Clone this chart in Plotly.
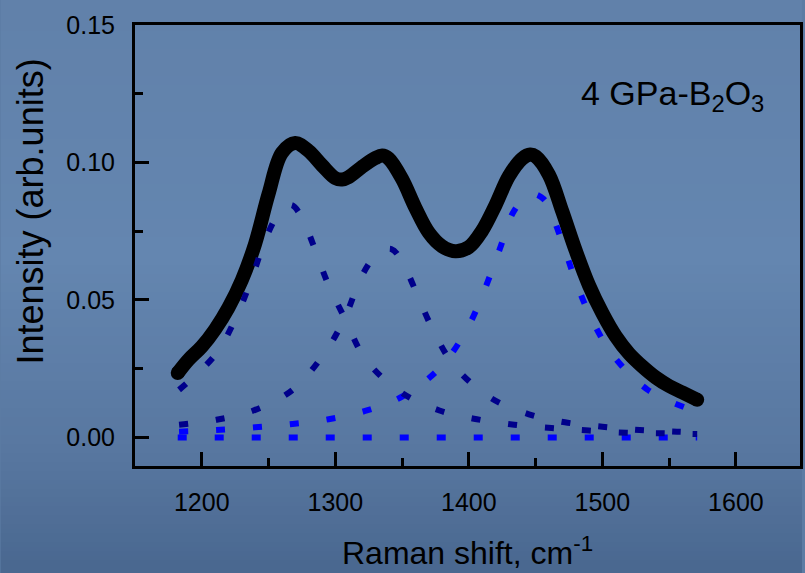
import base64, struct, zlib
import plotly.graph_objects as go

# ---- data ----
x_total = [1182, 1190, 1200, 1210, 1220, 1230, 1240, 1250, 1260, 1270, 1280, 1290, 1300,
           1305, 1310, 1320, 1330, 1335, 1340, 1350, 1360, 1370, 1380, 1390, 1400, 1410,
           1420, 1430, 1440, 1446, 1450, 1460, 1470, 1480, 1490, 1500, 1510, 1520, 1530,
           1540, 1550, 1560, 1571]
y_total = [0.0234, 0.0282, 0.0330, 0.0393, 0.0472, 0.0572, 0.0705, 0.0885, 0.1035, 0.1071,
           0.1042, 0.0990, 0.0943, 0.0938, 0.0947, 0.0984, 0.1016, 0.1025, 0.1014, 0.0940,
           0.0835, 0.0745, 0.0695, 0.0677, 0.0692, 0.0752, 0.0845, 0.0950, 0.1014, 0.1029,
           0.1022, 0.0955, 0.0822, 0.0680, 0.0553, 0.0452, 0.0368, 0.0305, 0.0258, 0.0218,
           0.0187, 0.0163, 0.0137]

x_comp1 = [1183, 1210, 1226, 1238, 1248, 1258, 1267, 1275, 1283, 1294, 1307, 1323, 1349,
           1378, 1406, 1434, 1462, 1490, 1518, 1546, 1571]
y_comp1 = [0.0173, 0.0300, 0.0440, 0.0586, 0.0725, 0.0815, 0.0845, 0.0800, 0.0707, 0.0565,
           0.0434, 0.0282, 0.0165, 0.0098, 0.0066, 0.0046, 0.0034, 0.0025, 0.0017, 0.0015,
           0.0012]

x_comp2 = [1183, 1211, 1240, 1268, 1292, 1307, 1320, 1332, 1342, 1350, 1359, 1372, 1389,
           1416, 1445, 1472, 1500, 1528, 1556, 1571]
y_comp2 = [0.0046, 0.0064, 0.0100, 0.0173, 0.0307, 0.0434, 0.0589, 0.0670, 0.0685, 0.0640,
           0.0546, 0.0403, 0.0261, 0.0145, 0.0084, 0.0055, 0.0039, 0.0027, 0.0021, 0.0018]

x_comp3 = [1183, 1211, 1240, 1268, 1295, 1323, 1351, 1379, 1399, 1412, 1423, 1434, 1446,
           1456, 1469, 1479, 1491, 1508, 1534, 1562, 1571]
y_comp3 = [0.0021, 0.0027, 0.0037, 0.0049, 0.0066, 0.0097, 0.0151, 0.0256, 0.0398, 0.0540,
           0.0683, 0.0825, 0.0885, 0.0867, 0.0723, 0.0582, 0.0440, 0.0298, 0.0173, 0.0109,
           0.0097]

x_base = [1182, 1571]
y_base = [0.0, 0.0]

x_ticks = [1200, 1300, 1400, 1500, 1600]
y_ticks = [0.00, 0.05, 0.10, 0.15]
y_tick_labels = ["0.00", "0.05", "0.10", "0.15"]

FONT = "Liberation Sans, Arial, sans-serif"
NAVY = "#00008B"
BLUE = "#0000FF"


# ---- background gradient image (slide-like) ----
def _chunk(tag, data):
    return struct.pack(">I", len(data)) + tag + data + struct.pack(">I", zlib.crc32(tag + data) & 0xFFFFFFFF)


def gradient_png(stops, h=64):
    rows = []
    for i in range(h):
        t = i / (h - 1)
        for j in range(len(stops) - 1):
            t0, c0 = stops[j]
            t1, c1 = stops[j + 1]
            if t0 <= t <= t1:
                f = (t - t0) / (t1 - t0) if t1 > t0 else 0
                rows.append(tuple(int(round(c0[k] + (c1[k] - c0[k]) * f)) for k in range(3)))
                break
    raw = b"".join(b"\x00" + bytes(r) for r in rows)
    png = (b"\x89PNG\r\n\x1a\n" + _chunk(b"IHDR", struct.pack(">IIBBBBB", 1, h, 8, 2, 0, 0, 0))
           + _chunk(b"IDAT", zlib.compress(raw)) + _chunk(b"IEND", b""))
    return "data:image/png;base64," + base64.b64encode(png).decode()


bg = gradient_png([(0.0, (97, 129, 170)), (0.45, (100, 134, 176)), (0.8, (88, 119, 160)),
                   (1.0, (74, 104, 144))])

fig = go.Figure()

fig.add_trace(go.Scatter(x=x_total, y=y_total, mode="lines", line=dict(color="black", width=14, shape="spline"),
                         showlegend=False, hoverinfo="skip"))
fig.add_trace(go.Scatter(x=[x_total[0], x_total[-1]], y=[y_total[0], y_total[-1]], mode="markers",
                         marker=dict(color="black", size=14), showlegend=False, hoverinfo="skip"))

dots = "9px,28px"
for xs, ys, col in [(x_base, y_base, BLUE), (x_comp3, y_comp3, BLUE), (x_comp1, y_comp1, NAVY),
                    (x_comp2, y_comp2, NAVY)]:
    fig.add_trace(go.Scatter(x=xs, y=ys, mode="lines",
                             line=dict(color=col, width=6, dash=dots, shape="spline"),
                             showlegend=False, hoverinfo="skip"))

axis_common = dict(
    showline=True, linecolor="black", linewidth=3, mirror=True,
    ticks="inside", ticklen=14, tickwidth=2.5, tickcolor="black",
    showgrid=False, zeroline=False,
    tickfont=dict(family=FONT, size=25, color="black"),
)

fig.update_xaxes(range=[1150, 1648], tickvals=x_ticks, ticklabelstandoff=12,
                 minor=dict(dtick=50, ticks="inside", ticklen=8, tickwidth=2.5, tickcolor="black"),
                 **axis_common)
fig.update_yaxes(range=[-0.0104, 0.15], tickvals=y_ticks, ticktext=y_tick_labels, ticklabelstandoff=12,
                 minor=dict(dtick=0.025, ticks="inside", ticklen=8, tickwidth=2.5, tickcolor="black"),
                 **axis_common)

fig.update_layout(
    width=805, height=573,
    margin=dict(l=135, r=2, t=25, b=107),
    paper_bgcolor="rgb(92,124,164)",
    plot_bgcolor="rgba(0,0,0,0)",
    font=dict(family=FONT, color="black"),
    images=[dict(source=bg, xref="paper", yref="paper", x=-135 / 668, y=1 + 25 / 441,
                 sizex=805 / 668, sizey=573 / 441, sizing="stretch", xanchor="left", yanchor="top",
                 layer="below")],
    annotations=[
        dict(text="Raman shift, cm<sup>-1</sup>", xref="paper", yref="paper", x=0.5, y=-(551 - 466) / 441,
             xanchor="center", yanchor="middle", showarrow=False, font=dict(family=FONT, size=32)),
        dict(text="Intensity (arb.units)", xref="paper", yref="paper", x=-(135 - 30) / 668,
             y=(466 - 211) / 441, xanchor="center", yanchor="middle", textangle=-90, showarrow=False,
             font=dict(family=FONT, size=36)),
        dict(text="4 GPa-B<sub>2</sub>O<sub>3</sub>", xref="paper", yref="paper", x=(581 - 135) / 668,
             y=(466 - 72) / 441, xanchor="left", yanchor="top", showarrow=False,
             font=dict(family=FONT, size=34)),
    ],
)

fig.write_html("out.html")
